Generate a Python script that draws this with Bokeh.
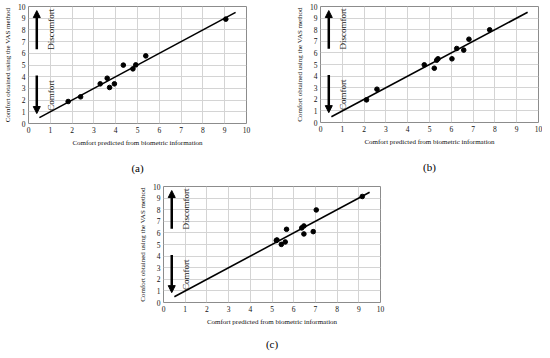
import math
from bokeh.plotting import figure
from bokeh.layouts import column, row
from bokeh.models import Range1d, FixedTicker, Arrow, NormalHead, Title
from bokeh.core.properties import value
from bokeh.embed import file_html
from bokeh.resources import INLINE

# ---- data ----
ticks = [0, 1, 2, 3, 4, 5, 6, 7, 8, 9, 10]

a_pred = [1.82, 2.39, 3.29, 3.61, 3.72, 3.94, 4.35, 4.79, 4.92, 5.38, 9.05]
a_vas = [1.88, 2.28, 3.39, 3.87, 3.08, 3.39, 4.99, 4.67, 5.01, 5.78, 8.92]

b_pred = [2.11, 2.59, 4.76, 5.22, 5.33, 5.39, 6.03, 6.25, 6.57, 6.81, 7.76]
b_vas = [1.95, 2.87, 4.97, 4.68, 5.37, 5.49, 5.49, 6.38, 6.24, 7.18, 7.99]

c_pred = [5.20, 5.23, 5.43, 5.61, 5.67, 6.37, 6.47, 6.47, 6.90, 7.04, 9.16]
c_vas = [5.35, 5.39, 5.01, 5.22, 6.31, 6.43, 6.60, 5.91, 6.11, 7.98, 9.14]

fit_x = [0.5, 9.5]
fit_y = [0.5, 9.5]

x_label = "Comfort predicted from biometric information"
y_label = "Comfort obtained using the VAS method"
label_up = "Discomfort"
label_down = "Comfort"

FONT = "Liberation Serif"


def panel(xs, ys, caption, fw, fh, bl, br, bt, bb, cap_offset, cap_standoff):
    p = figure(frame_width=fw, frame_height=fh, x_range=Range1d(0, 10), y_range=Range1d(0, 10),
               output_backend="svg", toolbar_location=None,
               min_border_left=bl, min_border_right=br, min_border_top=bt, min_border_bottom=bb)
    p.outline_line_color = "#8c8c8c"
    p.outline_line_width = 1
    p.background_fill_color = "white"
    p.border_fill_color = "white"
    for ax in (p.xaxis[0], p.yaxis[0]):
        ax.ticker = FixedTicker(ticks=ticks)
        ax.axis_line_color = None
        ax.major_tick_line_color = None
        ax.minor_tick_line_color = None
        ax.major_tick_out = 0
        ax.major_tick_in = 0
        ax.minor_tick_out = 0
        ax.major_label_text_font = FONT
        ax.major_label_text_font_size = "7.5px"
        ax.major_label_text_color = "#111111"
        ax.axis_label_text_font = FONT
        ax.axis_label_text_font_size = "7px"
        ax.axis_label_text_font_style = "normal"
        ax.axis_label_text_color = "#111111"
        ax.major_label_standoff = 3
        ax.axis_label_standoff = 3
    p.xaxis.axis_label = x_label
    p.yaxis.axis_label = y_label
    p.xgrid.ticker = FixedTicker(ticks=ticks)
    p.ygrid.ticker = FixedTicker(ticks=ticks)
    p.grid.grid_line_color = "#d4d4d4"
    p.grid.grid_line_width = 1

    p.line(fit_x, fit_y, line_color="black", line_width=1.6)
    p.scatter(xs, ys, size=4.6, fill_color="black", line_color="black")

    p.add_layout(Arrow(end=NormalHead(size=7, fill_color="black", line_color="black"),
                       x_start=0.38, y_start=6.35, x_end=0.38, y_end=9.65,
                       line_width=2.5, line_color="black"))
    p.add_layout(Arrow(end=NormalHead(size=7, fill_color="black", line_color="black"),
                       x_start=0.38, y_start=4.1, x_end=0.38, y_end=0.85,
                       line_width=2.5, line_color="black"))
    p.text(x=[1.05], y=[8.05], text=[label_up], angle=math.pi / 2,
           text_align="center", text_baseline="alphabetic",
           text_font=value(FONT), text_font_size="9px", text_color="#222222")
    p.text(x=[1.05], y=[2.4], text=[label_down], angle=math.pi / 2,
           text_align="center", text_baseline="alphabetic",
           text_font=value(FONT), text_font_size="9px", text_color="#222222")

    t = Title(text=caption, align="center", text_font=FONT, text_font_size="11px",
              text_font_style="normal", text_color="black", offset=cap_offset,
              standoff=cap_standoff)
    p.add_layout(t, "below")
    return p


pa = panel(a_pred, a_vas, "(a)", 218, 117, 20, 29, 4, 56, -15, 20)
pb = panel(b_pred, b_vas, "(b)", 218, 116, 45, 4, 6, 56, -8, 20)
pc = panel(c_pred, c_vas, "(c)", 217, 116, 163, 20, 4, 40, -9.5, 15)

layout = column(row(pa, pb, spacing=0), pc, spacing=0)

open("out.html", "w").write(file_html(layout, INLINE))
